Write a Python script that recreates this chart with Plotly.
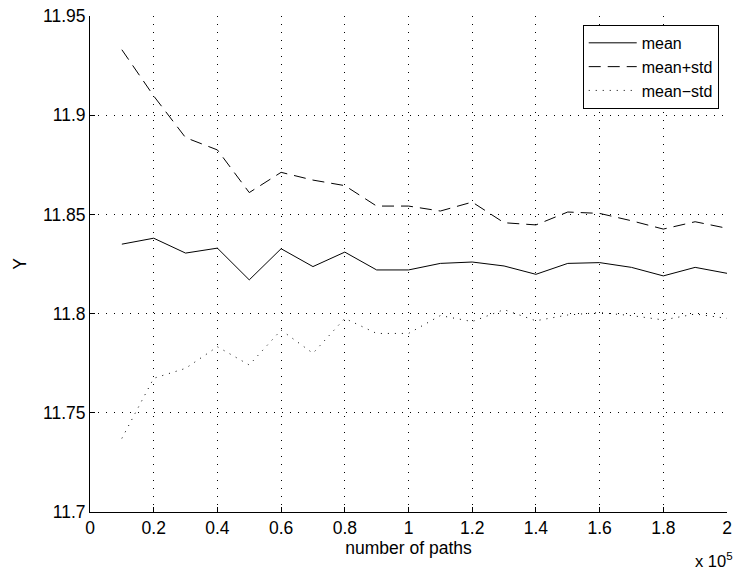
import plotly.graph_objects as go

# number of paths (x 10^5)
paths = [0.1, 0.2, 0.3, 0.4, 0.5, 0.6, 0.7, 0.8, 0.9, 1.0,
         1.1, 1.2, 1.3, 1.4, 1.5, 1.6, 1.7, 1.8, 1.9, 2.0]

mean_vals = [11.835, 11.838, 11.8305, 11.833, 11.817, 11.8327, 11.8237, 11.831, 11.822, 11.822,
             11.8253, 11.826, 11.824, 11.8198, 11.8253, 11.8257, 11.8233, 11.819, 11.8233, 11.8203]

mean_plus_std = [11.933, 11.9097, 11.8887, 11.8825, 11.861, 11.8712, 11.8673, 11.8645, 11.8542, 11.8542,
                 11.8517, 11.8562, 11.8458, 11.8447, 11.8512, 11.8505, 11.8468, 11.8426, 11.8463, 11.843]

mean_minus_std = [11.7371, 11.7674, 11.7724, 11.7833, 11.7741, 11.7917, 11.780, 11.7976, 11.790, 11.790,
                  11.799, 11.796, 11.802, 11.7964, 11.7993, 11.8005, 11.799, 11.7968, 11.7998, 11.7976]

x_ticks = [0, 0.2, 0.4, 0.6, 0.8, 1, 1.2, 1.4, 1.6, 1.8, 2]
x_tick_text = ["0", "0.2", "0.4", "0.6", "0.8", "1", "1.2", "1.4", "1.6", "1.8", "2"]
y_ticks = [11.7, 11.75, 11.8, 11.85, 11.9, 11.95]
y_tick_text = ["11.7", "11.75", "11.8", "11.85", "11.9", "11.95"]

FONT = "Liberation Sans, Arial, Helvetica, sans-serif"
FS = 17.5
LEG_FS = 16

fig = go.Figure()
fig.add_trace(go.Scatter(x=paths, y=mean_vals, mode="lines", name="mean",
                         line=dict(color="black", width=1, dash="solid")))
fig.add_trace(go.Scatter(x=paths, y=mean_plus_std, mode="lines", name="mean+std",
                         line=dict(color="black", width=1, dash="12px,7px")))
fig.add_trace(go.Scatter(x=paths, y=mean_minus_std, mode="lines", name="mean\u2212std",
                         line=dict(color="black", width=1, dash="1px,6px")))

fig.update_layout(
    template="none",
    width=735, height=573,
    margin=dict(l=90, r=8, t=16, b=61, autoexpand=False),
    paper_bgcolor="white", plot_bgcolor="white",
    font=dict(family=FONT, size=FS, color="black"),
    showlegend=True,
    legend=dict(x=0.987, y=0.982, xanchor="right", yanchor="top",
                bgcolor="white", bordercolor="black", borderwidth=1,
                font=dict(family=FONT, size=LEG_FS, color="black"),
                tracegroupgap=0, itemwidth=48),
    xaxis=dict(range=[0, 2], tickmode="array", tickvals=x_ticks, ticktext=x_tick_text,
               showgrid=True, gridcolor="black", gridwidth=1, griddash="1px,7px",
               showline=True, linecolor="black", linewidth=1, mirror=False,
               ticks="inside", ticklen=5, tickcolor="black", zeroline=False,
               automargin=False,
               title=dict(text="number of paths", standoff=4,
                          font=dict(family=FONT, size=FS, color="black"))),
    yaxis=dict(range=[11.7, 11.95], tickmode="array", tickvals=y_ticks, ticktext=y_tick_text,
               showgrid=True, gridcolor="black", gridwidth=1, griddash="1px,7px",
               showline=True, linecolor="black", linewidth=1, mirror=False,
               ticks="inside", ticklen=5, tickcolor="black", zeroline=False,
               automargin=False,
               title=dict(text="Y", standoff=11,
                          font=dict(family=FONT, size=FS, color="black"))),
    annotations=[dict(text="x 10<sup>5</sup>", xref="paper", yref="paper",
                      x=1.0125, y=-0.097, xanchor="right", yanchor="middle",
                      showarrow=False, font=dict(family=FONT, size=16.5, color="black"))],
)

fig.write_html("out.html", config={"displayModeBar": False},
               post_script="document.body.style.margin='0';document.body.style.overflow='hidden';")
